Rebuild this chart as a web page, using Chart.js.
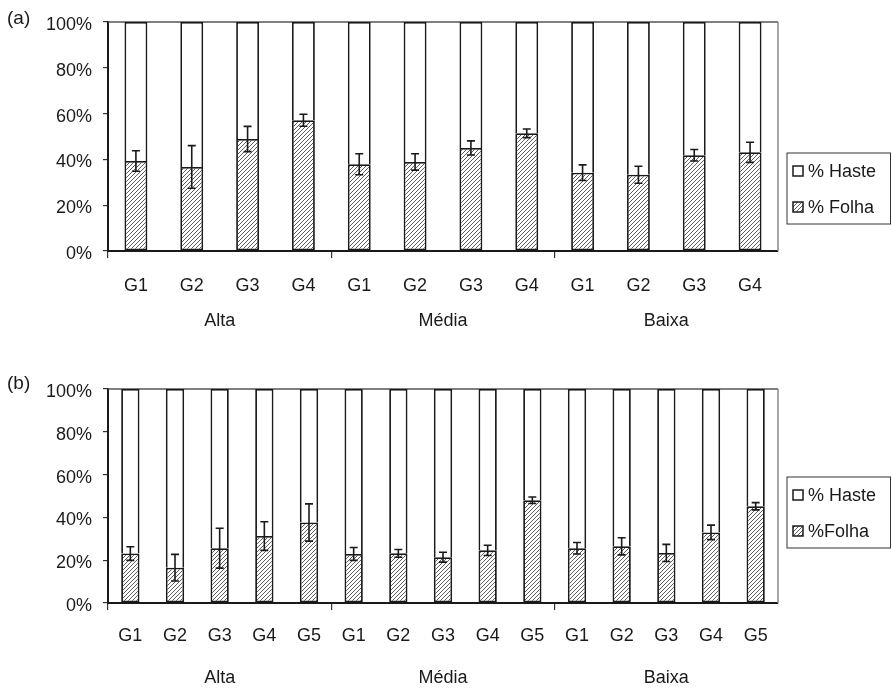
<!DOCTYPE html>
<html>
<head>
<meta charset="utf-8">
<script src="https://cdn.jsdelivr.net/npm/chart.js@4.4.1/dist/chart.umd.min.js"></script>
<style>
  html, body { margin: 0; padding: 0; background: #fff; }
  #wrap { position: relative; width: 892px; height: 688px; }
  canvas { position: absolute; left: 0; }
  #chartA { top: 0; }
  #chartB { top: 345px; }
</style>
</head>
<body>
<div id="wrap">
  <canvas id="chartA" width="892" height="345"></canvas>
  <canvas id="chartB" width="892" height="343"></canvas>
</div>
<script>
// Cutting-height groups and genotypes
const groups = ['Alta', 'Média', 'Baixa'];
const genotypesA = ['G1', 'G2', 'G3', 'G4'];
const genotypesB = ['G1', 'G2', 'G3', 'G4', 'G5'];

// Panel (a): leaf / stem share (%) and standard error of leaf share
const folhaA = [39.3, 36.7, 48.9, 57.1, 37.9, 38.9, 45.0, 51.4, 34.2, 33.3, 41.8, 43.1];
const hasteA = [60.7, 63.3, 51.1, 42.9, 62.1, 61.1, 55.0, 48.6, 65.8, 66.7, 58.2, 56.9];
const erroA  = [4.5, 9.3, 5.5, 2.6, 4.6, 3.6, 3.1, 1.9, 3.4, 3.7, 2.5, 4.4];

// Panel (b)
const folhaB = [23.1, 16.5, 25.6, 31.3, 37.6, 22.9, 23.2, 21.4, 24.6, 48.0, 25.6, 26.5, 23.4, 33.0, 45.2];
const hasteB = [76.9, 83.5, 74.4, 68.7, 62.4, 77.1, 76.8, 78.6, 75.4, 52.0, 74.4, 73.5, 76.6, 67.0, 54.8];
const erroB  = [3.2, 6.2, 9.3, 6.7, 8.7, 3.0, 1.8, 2.3, 2.4, 1.5, 2.7, 4.0, 4.0, 3.4, 1.7];

const yTicks = [0, 20, 40, 60, 80, 100];

const FONT_FAMILY = '"Liberation Sans", Arial, sans-serif';
const font = { family: FONT_FAMILY, size: 18, lineHeight: 1.2 };
const INK = '#1a1a1a';
const BW = 1.8;

// Diagonal hatch fill for the leaf segments
function makeHatch() {
  const n = 4;
  const c = document.createElement('canvas');
  c.width = n; c.height = n;
  const g = c.getContext('2d');
  g.fillStyle = '#fff';
  g.fillRect(0, 0, n, n);
  g.strokeStyle = '#606060';
  g.lineWidth = 1;
  g.beginPath();
  g.moveTo(0, n); g.lineTo(n, 0);
  g.moveTo(-1, 1); g.lineTo(1, -1);
  g.moveTo(n - 1, n + 1); g.lineTo(n + 1, n - 1);
  g.stroke();
  return document.createElement('canvas').getContext('2d').createPattern(c, 'repeat');
}
const hatch = makeHatch();

// Plot frame, error bars, legend box and panel letter
const panelDecor = {
  id: 'panelDecor',
  beforeDatasetsDraw(chart) {
    const { ctx, chartArea: a } = chart;
    ctx.save();
    ctx.lineWidth = 1.5;
    ctx.strokeStyle = '#555';
    ctx.beginPath();
    ctx.moveTo(a.left, a.top);
    ctx.lineTo(a.right, a.top);
    ctx.stroke();
    ctx.strokeStyle = '#888';
    ctx.beginPath();
    ctx.moveTo(a.right, a.top);
    ctx.lineTo(a.right, a.bottom);
    ctx.stroke();
    ctx.restore();
  },
  afterDatasetsDraw(chart) {
    const { ctx } = chart;
    const ds = chart.data.datasets[0];
    const meta = chart.getDatasetMeta(0);
    const y = chart.scales.y;
    ctx.save();
    ctx.strokeStyle = INK;
    ctx.lineWidth = 1.6;
    meta.data.forEach((bar, i) => {
      const v = ds.data[i], e = ds.errors[i];
      const yt = y.getPixelForValue(v + e);
      const yb = y.getPixelForValue(v - e);
      ctx.beginPath();
      ctx.moveTo(bar.x, yt); ctx.lineTo(bar.x, yb);
      ctx.moveTo(bar.x - 4, yt); ctx.lineTo(bar.x + 4, yt);
      ctx.moveTo(bar.x - 4, yb); ctx.lineTo(bar.x + 4, yb);
      ctx.stroke();
    });
    ctx.restore();
  },
  afterDraw(chart, args, o) {
    const { ctx, chartArea: a } = chart;
    ctx.save();
    // legend
    const left = a.right + 9;
    const right = chart.width - 1.5;
    const top = o.legendTop;
    const h = 71;
    ctx.lineWidth = 1;
    ctx.strokeStyle = '#333';
    ctx.strokeRect(left, top, right - left, h);
    const items = chart.data.datasets.slice().reverse();
    ctx.font = `18px ${FONT_FAMILY}`;
    ctx.textBaseline = 'middle';
    ctx.textAlign = 'left';
    items.forEach((d, i) => {
      const cy = top + 18 + i * 36;
      ctx.fillStyle = d.backgroundColor;
      ctx.fillRect(left + 6, cy - 5, 10, 10);
      ctx.lineWidth = 1.5;
      ctx.strokeStyle = INK;
      ctx.strokeRect(left + 6, cy - 5, 10, 10);
      ctx.fillStyle = INK;
      ctx.fillText(d.label, left + 21, cy + 1);
    });
    // panel letter
    ctx.font = `19px ${FONT_FAMILY}`;
    ctx.fillStyle = INK;
    ctx.fillText(o.letter, 7, o.letterY);
    ctx.restore();
  }
};

function buildChart(id, genotypes, folha, haste, erro, folhaLabel, geom) {
  const labels = groups.flatMap(() => genotypes);
  const per = genotypes.length;
  return new Chart(document.getElementById(id), {
    type: 'bar',
    data: {
      labels,
      datasets: [
        {
          label: folhaLabel,
          data: folha,
          errors: erro,
          backgroundColor: hatch,
          borderColor: INK,
          borderWidth: { top: BW, left: BW, right: BW, bottom: BW },
          borderSkipped: false
        },
        {
          label: '% Haste',
          data: haste,
          backgroundColor: '#ffffff',
          borderColor: INK,
          borderWidth: { top: BW, left: BW, right: BW, bottom: 0 },
          borderSkipped: false
        }
      ]
    },
    options: {
      responsive: false,
      animation: false,
      devicePixelRatio: 1,
      layout: { padding: { top: geom.top, right: 114, left: 0, bottom: 0 } },
      datasets: { bar: { barPercentage: 0.41, categoryPercentage: 1.0 } },
      plugins: {
        legend: { display: false },
        tooltip: { enabled: false },
        panelDecor: { legendTop: geom.legendTop, letter: geom.letter, letterY: geom.letterY }
      },
      scales: {
        x: {
          stacked: true,
          offset: true,
          weight: 0,
          grid: {
            offset: true,
            drawOnChartArea: false,
            tickLength: 7,
            lineWidth: 1.2,
            color: ctx => (ctx.index % per === 0) ? '#333' : 'rgba(0,0,0,0)'
          },
          border: { display: true, color: INK, width: 2 },
          ticks: { color: INK, font, padding: geom.xPad, autoSkip: false, maxRotation: 0 },
          afterFit: s => { s.height = 40; }
        },
        x2: {
          type: 'category',
          labels: groups,
          position: 'bottom',
          offset: true,
          weight: 1,
          grid: { display: false },
          border: { display: false },
          ticks: { color: INK, font, padding: geom.x2Pad, maxRotation: 0 },
          afterFit: s => { s.height = geom.x2H; }
        },
        y: {
          stacked: true,
          min: 0,
          max: 100,
          afterBuildTicks: s => { s.ticks = yTicks.map(v => ({ value: v })); },
          ticks: { color: INK, font, padding: 11, labelOffset: 3, callback: v => v + '%' },
          grid: { drawOnChartArea: false, tickLength: 5, color: '#333', lineWidth: 1.2 },
          border: { color: INK, width: 2 },
          afterFit: s => { s.width = 108; }
        }
      }
    },
    plugins: [panelDecor]
  });
}

buildChart('chartA', genotypesA, folhaA, hasteA, erroA, '% Folha',
  { top: 22, xPad: 17, x2Pad: 11, x2H: 54, legendTop: 153, letter: '(a)', letterY: 19 });
buildChart('chartB', genotypesB, folhaB, hasteB, erroB, '%Folha',
  { top: 44, xPad: 15, x2Pad: 16, x2H: 45, legendTop: 132, letter: '(b)', letterY: 39 });
</script>
</body>
</html>
